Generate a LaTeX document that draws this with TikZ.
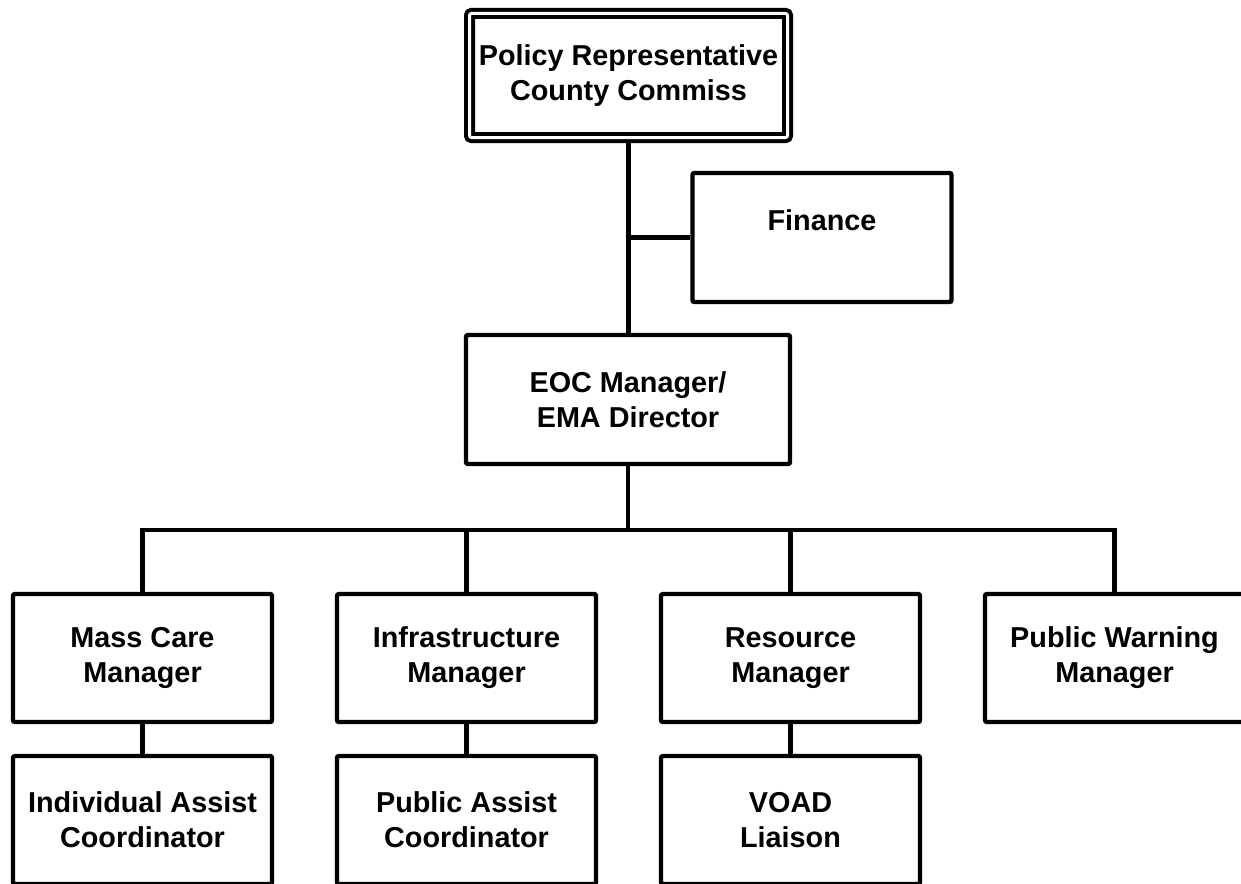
\documentclass[tikz,border=0pt]{standalone}
\usepackage{fontspec}
\setmainfont{Liberation Sans}
\usetikzlibrary{positioning}
\tikzset{
  orgbox/.style={draw=black, line width=2.2pt, rounded corners=1pt, align=center,
    font=\fontsize{14.4}{17.5}\selectfont\bfseries, inner sep=0pt,
    minimum width=129.5pt, minimum height=64pt, fill=white},
  orgtop/.style={orgbox, double, line width=2pt, double distance=1.5pt,
    minimum width=159pt, minimum height=62pt},
  orgwide/.style={orgbox, minimum width=162pt, minimum height=64.5pt},
  orgline/.style={line width=2.2pt, draw=black}
}
\begin{document}
\begin{tikzpicture}[x=0.5pt, y=-0.5pt]
  \useasboundingbox (0,0) rectangle (1241,883);
  \clip (0,0) rectangle (1241,883);
  \node[orgtop] (policy) at (628.5,75.5) {Policy Representative\\County Commiss};
  \node[orgbox, minimum height=64.5pt] (finance) at (822,237.5) {Finance\\~};
  \node[orgwide] (eoc) at (628,399.5) {EOC Manager/\\EMA Director};
  \coordinate (bus) at (628,530);
  \node[orgbox] (masscare) at (142.5,658) {Mass Care\\Manager};
  \node[orgbox] (infra) at (466.5,658) {Infrastructure\\Manager};
  \node[orgbox] (resource) at (790.5,658) {Resource\\Manager};
  \node[orgbox] (warning) at (1114.5,658) {Public Warning\\Manager};
  \node[orgbox] (indiv) at (142.5,820) {Individual Assist\\Coordinator};
  \node[orgbox] (public) at (466.5,820) {Public Assist\\Coordinator};
  \node[orgbox] (voad) at (790.5,820) {VOAD\\Liaison};
  \draw[orgline] (policy.south) -- (policy.south |- eoc.north);
  \draw[orgline] (finance.west) -- (finance.west -| policy.south);
  \draw[orgline] (eoc.south) -- (bus);
  \draw[orgline] (masscare.north) |- (bus) -| (warning.north);
  \draw[orgline] (infra.north) -- (infra.north |- bus);
  \draw[orgline] (resource.north) -- (resource.north |- bus);
  \draw[orgline] (masscare) -- (indiv);
  \draw[orgline] (infra) -- (public);
  \draw[orgline] (resource) -- (voad);
\end{tikzpicture}
\end{document}
